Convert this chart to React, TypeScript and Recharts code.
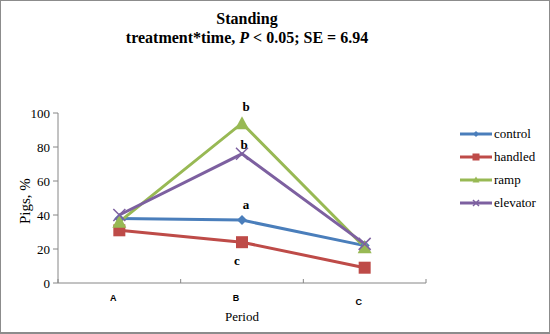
import { LineChart, Line, XAxis, YAxis, LabelList } from "recharts";

const periods = ["A", "B", "C"];
const control = [38, 37, 22];
const handled = [31, 24, 9];
const ramp = [36, 94, 21];
const elevator = [40, 76, 23];
const controlLetters = ["", "a", ""];
const handledLetters = ["", "c", ""];
const rampLetters = ["", "b", ""];
const elevatorLetters = ["", "b", ""];
const yTicks = [0, 20, 40, 60, 80, 100];

const data = periods.map((p, i) => ({
  x: i + 0.5,
  period: p,
  control: control[i],
  handled: handled[i],
  ramp: ramp[i],
  elevator: elevator[i],
}));

const serif = "Liberation Serif, Times New Roman, serif";
const axisColor = "#868686";

const Diamond = (props: any) => {
  const { cx, cy, fill, size = 5 } = props;
  if (cx == null || cy == null) return null;
  const s = size;
  return <polygon points={`${cx},${cy - s} ${cx + s},${cy} ${cx},${cy + s} ${cx - s},${cy}`} fill={fill} />;
};
const Square = (props: any) => {
  const { cx, cy, fill, size = 6 } = props;
  if (cx == null || cy == null) return null;
  return <rect x={cx - size} y={cy - size} width={size * 2} height={size * 2} fill={fill} />;
};
const Triangle = (props: any) => {
  const { cx, cy, fill, size = 7 } = props;
  if (cx == null || cy == null) return null;
  return <polygon points={`${cx},${cy - size} ${cx + size},${cy + size - 1} ${cx - size},${cy + size - 1}`} fill={fill} />;
};
const Cross = (props: any) => {
  const { cx, cy, stroke, size = 6 } = props;
  if (cx == null || cy == null) return null;
  const s = size;
  return (
    <g stroke={stroke} strokeWidth={1.5}>
      <line x1={cx - s} y1={cy - s} x2={cx + s} y2={cy + s} />
      <line x1={cx - s} y1={cy + s} x2={cx + s} y2={cy - s} />
    </g>
  );
};

const letterLabel = (letters: string[], dx: number, dy: number) => (props: any) => {
  const { x, y, index } = props;
  const t = letters[index];
  if (!t) return null;
  return (
    <text x={x + dx} y={y + dy} textAnchor="middle" style={{ fontFamily: serif }} fontWeight="bold" fontSize={13} fill="#000">
      {t}
    </text>
  );
};

const XTick = (props: any) => {
  const { x, y, payload } = props;
  const v = payload.value;
  if (Number.isInteger(v)) {
    return <line x1={x} y1={y - 12} x2={x} y2={y - 8} stroke={axisColor} />;
  }
  const i = Math.floor(v);
  return (
    <text
      x={x - 6}
      y={y + 10 + (i === 2 ? 4 : 0)}
      textAnchor="middle"
      style={{ fontFamily: "Liberation Sans, Arial, sans-serif" }}
      fontWeight="bold"
      fontSize={9}
      fill="#000"
    >
      {periods[i]}
    </text>
  );
};

const series = [
  { key: "control", name: "control", color: "#4A7EBB", dot: Diamond, ls: 3, letters: controlLetters, dx: 4, dy: -11 },
  { key: "handled", name: "handled", color: "#BE4B48", dot: Square, ls: 3.5, letters: handledLetters, dx: -5, dy: 23 },
  { key: "ramp", name: "ramp", color: "#98B954", dot: Triangle, ls: 3.5, letters: rampLetters, dx: 4, dy: -12 },
  { key: "elevator", name: "elevator", color: "#7D60A0", dot: Cross, ls: 3, letters: elevatorLetters, dx: 2, dy: -5 },
];

export default function App() {
  return (
    <div style={{ position: "absolute", left: 0, top: 0, width: 550, height: 334, background: "#fff", fontFamily: serif }}>
      <div
        style={{
          position: "absolute",
          left: 0,
          top: 0,
          width: 550,
          height: 334,
          border: "1px solid #8c8c8c",
          borderBottomWidth: 2,
          boxSizing: "border-box",
          pointerEvents: "none",
        }}
      />
      <div
        style={{
          position: "absolute",
          left: 0,
          width: 494,
          top: 9,
          textAlign: "center",
          fontFamily: serif,
          fontWeight: "bold",
          fontSize: 16,
          lineHeight: "19px",
        }}
      >
        <div>Standing</div>
        <div>
          treatment*time, <i>P</i> &lt; 0.05; SE = 6.94
        </div>
      </div>
      <LineChart
        width={550}
        height={334}
        data={data}
        margin={{ top: 113, right: 124, bottom: 31, left: 18 }}
        style={{ fontFamily: serif }}
      >
        <XAxis
          dataKey="x"
          type="number"
          domain={[0, 3]}
          ticks={[0, 0.5, 1, 1.5, 2, 2.5, 3]}
          interval={0}
          tick={<XTick />}
          tickLine={false}
          stroke={axisColor}
          height={20}
          label={{ value: "Period", position: "insideBottom", offset: -18, style: { fontFamily: serif }, fontSize: 13, fill: "#000" }}
        />
        <YAxis
          domain={[0, 100]}
          ticks={yTicks}
          width={40}
          stroke={axisColor}
          tickSize={5}
          tickMargin={3}
          tick={{ style: { fontFamily: serif }, fontSize: 13, fill: "#000" }}
          label={{ value: "Pigs, %", angle: -90, position: "insideLeft", dx: 2, dy: 26, style: { fontFamily: serif }, fontSize: 15, fill: "#000" }}
        />
        {series.map((s) => (
          <Line
            key={s.key}
            dataKey={s.key}
            stroke={s.color}
            fill={s.color}
            strokeWidth={3}
            dot={s.dot}
            activeDot={false}
            isAnimationActive={false}
          >
            <LabelList dataKey={s.key} content={letterLabel(s.letters, s.dx, s.dy)} />
          </Line>
        ))}
      </LineChart>
      <div style={{ position: "absolute", left: 460, top: 122, fontFamily: serif, fontSize: 13 }}>
        {series.map((s) => {
          const Mark = s.dot;
          return (
            <div key={s.key} style={{ display: "flex", alignItems: "center", height: 23 }}>
              <svg width={32} height={12}>
                <line x1={0} y1={6} x2={32} y2={6} stroke={s.color} strokeWidth={3} />
                <Mark cx={16} cy={6} fill={s.color} stroke={s.color} size={s.ls} />
              </svg>
              <span style={{ marginLeft: 2 }}>{s.name}</span>
            </div>
          );
        })}
      </div>
    </div>
  );
}
